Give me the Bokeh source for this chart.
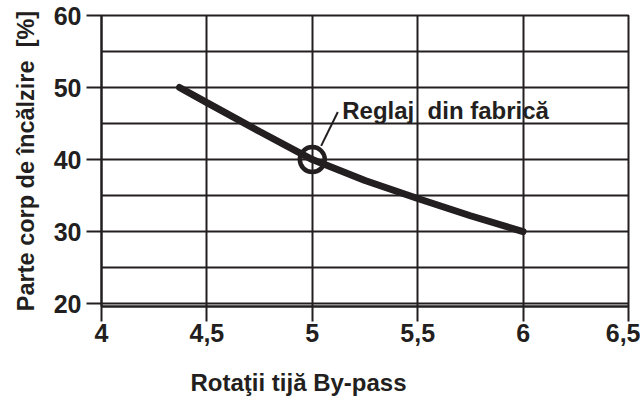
import math
from bokeh.plotting import figure
from bokeh.models import Label, FixedTicker, Title
from bokeh.embed import file_html
from bokeh.resources import INLINE

# data
x_vals = [4.37, 4.5, 4.75, 5.0, 5.25, 5.5, 5.75, 6.0]
y_vals = [50.0, 47.9, 43.9, 40.0, 37.1, 34.6, 32.2, 30.0]
marker_x = [5.0]
marker_y = [40.0]
x_ticks = [4, 4.5, 5, 5.5, 6, 6.5]
x_tick_labels = ["4", "4,5", "5", "5,5", "6", "6,5"]
y_ticks = [20, 30, 40, 50, 60]
y_grid = [20, 25, 30, 35, 40, 45, 50, 55, 60]
annot_text = "Reglaj\u00a0 din fabrică"
x_title = "Rotaţii tijă By-pass"
y_title = "Parte corp de încălzire\u00a0 [%]"

INK = "#231f20"
FONT = "Liberation Sans"

p = figure(width=640, height=401, x_range=(4, 6.5), y_range=(19.6, 60),
           output_backend="svg", toolbar_location=None,
           min_border_left=101, min_border_right=12, min_border_top=15,
           min_border_bottom=95)
p.background_fill_color = "white"
p.border_fill_color = "white"
p.outline_line_color = INK
p.outline_line_width = 2

# axes
p.xaxis.ticker = FixedTicker(ticks=x_ticks)
p.xaxis.major_label_overrides = {t: l for t, l in zip(x_ticks, x_tick_labels)}
p.yaxis.ticker = FixedTicker(ticks=y_ticks, minor_ticks=y_grid)
for ax in (p.xaxis, p.yaxis):
    ax.axis_line_color = INK
    ax.axis_line_width = 2
    ax.major_tick_line_color = INK
    ax.major_tick_line_width = 2
    ax.major_tick_in = 0
    ax.major_tick_out = 15
    ax.minor_tick_line_color = None
    ax.major_label_text_font = FONT
    ax.major_label_text_font_style = "bold"
    ax.major_label_text_font_size = "25px"
    ax.major_label_text_color = INK
p.yaxis.major_label_standoff = 5
p.xaxis.major_label_standoff = 2

p.yaxis.axis_label = y_title
p.yaxis.axis_label_text_font = FONT
p.yaxis.axis_label_text_font_style = "bold"
p.yaxis.axis_label_text_font_size = "23.5px"
p.yaxis.axis_label_text_color = INK
p.yaxis.axis_label_standoff = 12

# grid
p.xgrid.ticker = FixedTicker(ticks=x_ticks)
p.ygrid.ticker = FixedTicker(ticks=y_grid)
for g in (p.xgrid, p.ygrid):
    g.grid_line_color = INK
    g.grid_line_width = 2
    g.grid_line_alpha = 1.0

# extra tick marks for 5-unit grid lines on the left
for yv in y_grid:
    if yv not in y_ticks:
        p.segment(x0=[3.929], y0=[yv], x1=[4.0], y1=[yv], line_color=INK, line_width=2)

# curve
p.line(x_vals, y_vals, line_color=INK, line_width=7, line_cap="round")
p.scatter(marker_x, marker_y, marker="circle", size=25, fill_color=None,
          line_color=INK, line_width=4.5)

# annotation leader
p.segment(x0=[5.042], y0=[41.9], x1=[5.121], y1=[46.6], line_color=INK, line_width=2)
p.add_layout(Label(x=5.142, y=46.8, text=annot_text, text_font=FONT,
                   text_font_style="bold", text_font_size="24px", text_color=INK,
                   text_baseline="middle", text_align="left"))

# x-axis title
p.add_layout(Title(text=x_title, align="left", offset=89, standoff=0,
                   padding=(0, 0, 22, 0),
                   text_font=FONT, text_font_style="bold", text_font_size="24px",
                   text_color=INK), "below")

open("out.html", "w").write(file_html(p, INLINE))
